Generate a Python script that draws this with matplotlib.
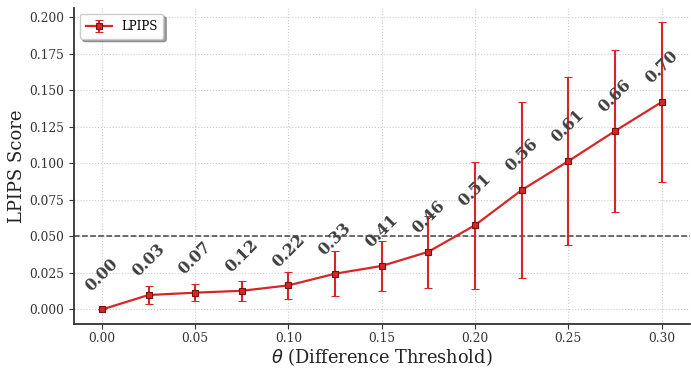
"""LPIPS score vs difference threshold, with ratio labels."""

import matplotlib

matplotlib.use("Agg")
import matplotlib.pyplot as plt

thresholds = [0.0, 0.025, 0.05, 0.075, 0.10, 0.125, 0.15, 0.175, 0.20, 0.225, 0.25, 0.275, 0.30]
lpips_mean = [0.0, 0.0099, 0.0115, 0.0128, 0.0165, 0.0245, 0.0298, 0.0395, 0.0577, 0.0817, 0.1015, 0.1221, 0.1419]
lpips_std = [0.0, 0.006, 0.006, 0.0068, 0.009, 0.0155, 0.017, 0.0245, 0.0434, 0.060, 0.0576, 0.0553, 0.0545]
ratio_labels = ["0.00", "0.03", "0.07", "0.12", "0.22", "0.33", "0.41", "0.46",
                "0.51", "0.56", "0.61", "0.66", "0.70"]
reference_level = 0.05

LINE_COLOR = "#d62728"
TEXT_COLOR = "#333333"

plt.rcParams["font.family"] = "DejaVu Serif"

fig, ax = plt.subplots(figsize=(6.91, 3.68), dpi=100)
fig.subplots_adjust(left=0.107, right=0.998, bottom=0.12, top=0.978)

ax.errorbar(
    thresholds, lpips_mean, yerr=lpips_std,
    color=LINE_COLOR, ecolor=LINE_COLOR, linewidth=1.6, elinewidth=1.5,
    capsize=3, capthick=1.0, marker="s", markersize=5,
    markerfacecolor=LINE_COLOR, markeredgecolor="#7a1010", markeredgewidth=0.8,
    label="LPIPS", zorder=3,
)
ax.axhline(reference_level, color="#444444", linestyle="--", linewidth=1.1, zorder=2)

for x, y, txt in zip(thresholds, lpips_mean, ratio_labels):
    ax.annotate(txt, (x, y), xytext=(0, 25), textcoords="offset points",
                ha="center", va="center", rotation=45, fontsize=11.5,
                fontweight="heavy", color="#404040", zorder=4)

ax.set_xlabel(r"$\theta$ (Difference Threshold)", fontsize=12.8, color="#222222", labelpad=0.5)
ax.set_ylabel("LPIPS Score", fontsize=13, color="#222222", labelpad=2)
ax.set_xticks([0.0, 0.05, 0.10, 0.15, 0.20, 0.25, 0.30])
ax.set_yticks([0.0, 0.025, 0.05, 0.075, 0.10, 0.125, 0.15, 0.175, 0.20])
ax.xaxis.set_major_formatter(matplotlib.ticker.FormatStrFormatter("%.2f"))
ax.yaxis.set_major_formatter(matplotlib.ticker.FormatStrFormatter("%.3f"))
ax.tick_params(labelsize=8.8, colors=TEXT_COLOR, length=3.5)
ax.tick_params(axis="x", pad=2.5)
ax.grid(True, linestyle=":", color="#cccccc", linewidth=0.8)
ax.set_axisbelow(True)

for side in ("top", "right"):
    ax.spines[side].set_visible(False)
for side in ("left", "bottom"):
    ax.spines[side].set_color("#333333")
    ax.spines[side].set_linewidth(1.3)

ax.legend(loc="upper left", fontsize=8.5, frameon=True, shadow=True, fancybox=True,
          handlelength=2.2, borderpad=0.5)

fig.savefig("out.png", dpi=100)
plt.close(fig)
